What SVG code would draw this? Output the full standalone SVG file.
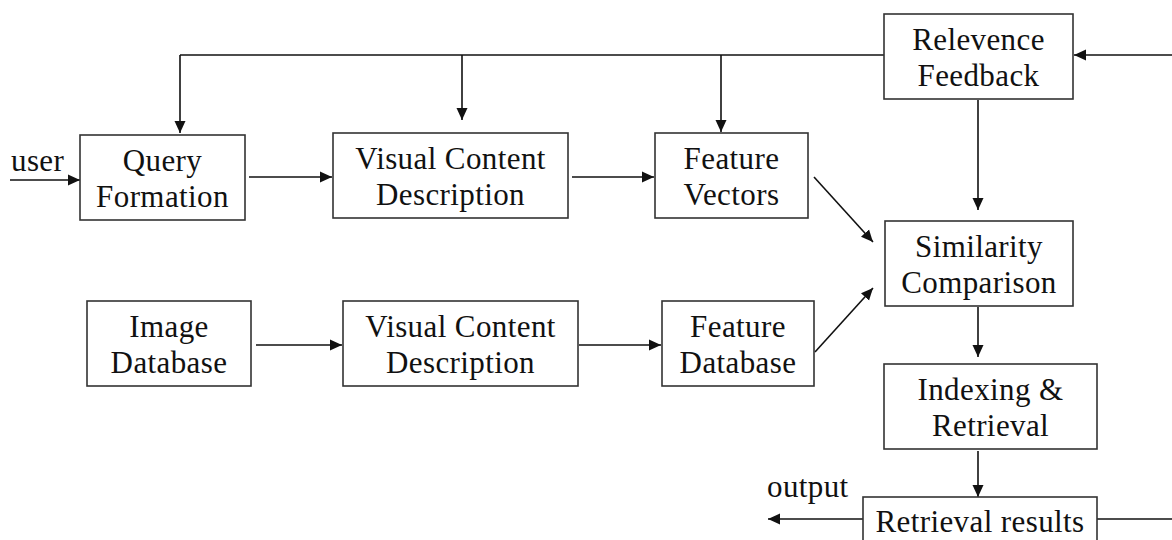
<svg xmlns="http://www.w3.org/2000/svg" width="1172" height="540" viewBox="0 0 1172 540">
  <style>
    .box { fill: #ffffff; stroke: #333333; stroke-width: 1.6; }
    .lbl { font-family: "Liberation Serif", "Times New Roman", serif; font-size: 31px; letter-spacing: 0.4px; fill: #111111; text-anchor: middle; }
    .free { font-family: "Liberation Serif", "Times New Roman", serif; font-size: 31px; letter-spacing: 0.4px; fill: #111111; }
    .wire { fill: none; stroke: #111111; stroke-width: 1.6; }
    .arr { marker-end: url(#head); }
  </style>
  <defs>
    <marker id="head" viewBox="0 0 12 12" refX="12" refY="6" markerWidth="12" markerHeight="12" markerUnits="userSpaceOnUse" orient="auto">
      <path d="M0,0.5 L12,6 L0,11.5 Z" fill="#111111"/>
    </marker>
  </defs>
  <rect width="1172" height="540" fill="#ffffff"/>

  <g id="connectors">
    <!-- feedback bus across the top -->
    <path class="wire" d="M884,55 H180"/>
    <path class="wire arr" d="M180,55 V133"/>
    <path class="wire arr" d="M462,55 V120"/>
    <path class="wire arr" d="M721,55 V132"/>
    <path class="wire arr" d="M1172,55 H1074"/>
    <path class="wire arr" d="M978,100 V210"/>
    <!-- query path -->
    <path class="wire arr" d="M10,180 H80"/>
    <path class="wire arr" d="M249,177 H332"/>
    <path class="wire arr" d="M572,177 H654"/>
    <path class="wire arr" d="M814,177 L873,242"/>
    <!-- database path -->
    <path class="wire arr" d="M256,345 H342"/>
    <path class="wire arr" d="M579,345 H661"/>
    <path class="wire arr" d="M815,352 L873,288"/>
    <!-- retrieval chain -->
    <path class="wire arr" d="M978,307 V357"/>
    <path class="wire arr" d="M978,451 V497"/>
    <path class="wire arr" d="M863,519 H768"/>
    <path class="wire" d="M1097,519 H1172"/>
  </g>

  <text class="free" x="11" y="171">user</text>
  <text class="free" x="767" y="497">output</text>

  <g id="query-formation">
    <rect class="box" x="80" y="135" width="165" height="85"/>
    <text class="lbl" x="162.5" y="171">Query</text>
    <text class="lbl" x="162.5" y="207">Formation</text>
  </g>
  <g id="visual-content-query">
    <rect class="box" x="333" y="133" width="235" height="85"/>
    <text class="lbl" x="450.5" y="169">Visual Content</text>
    <text class="lbl" x="450.5" y="205">Description</text>
  </g>
  <g id="feature-vectors">
    <rect class="box" x="655" y="133" width="153" height="85"/>
    <text class="lbl" x="731.5" y="169">Feature</text>
    <text class="lbl" x="731.5" y="205">Vectors</text>
  </g>
  <g id="relevance-feedback">
    <rect class="box" x="884" y="14" width="189" height="85"/>
    <text class="lbl" x="978.5" y="50">Relevence</text>
    <text class="lbl" x="978.5" y="86">Feedback</text>
  </g>
  <g id="similarity-comparison">
    <rect class="box" x="885" y="221" width="188" height="85"/>
    <text class="lbl" x="979" y="257">Similarity</text>
    <text class="lbl" x="979" y="293">Comparison</text>
  </g>
  <g id="image-database">
    <rect class="box" x="87" y="301" width="164" height="85"/>
    <text class="lbl" x="169" y="337">Image</text>
    <text class="lbl" x="169" y="373">Database</text>
  </g>
  <g id="visual-content-db">
    <rect class="box" x="343" y="301" width="235" height="85"/>
    <text class="lbl" x="460.5" y="337">Visual Content</text>
    <text class="lbl" x="460.5" y="373">Description</text>
  </g>
  <g id="feature-database">
    <rect class="box" x="662" y="301" width="152" height="85"/>
    <text class="lbl" x="738" y="337">Feature</text>
    <text class="lbl" x="738" y="373">Database</text>
  </g>
  <g id="indexing-retrieval">
    <rect class="box" x="884" y="364" width="213" height="85"/>
    <text class="lbl" x="990.5" y="400">Indexing &amp;</text>
    <text class="lbl" x="990.5" y="436">Retrieval</text>
  </g>
  <g id="retrieval-results">
    <rect class="box" x="863" y="497" width="234" height="60"/>
    <text class="lbl" x="980" y="532">Retrieval results</text>
  </g>
</svg>
